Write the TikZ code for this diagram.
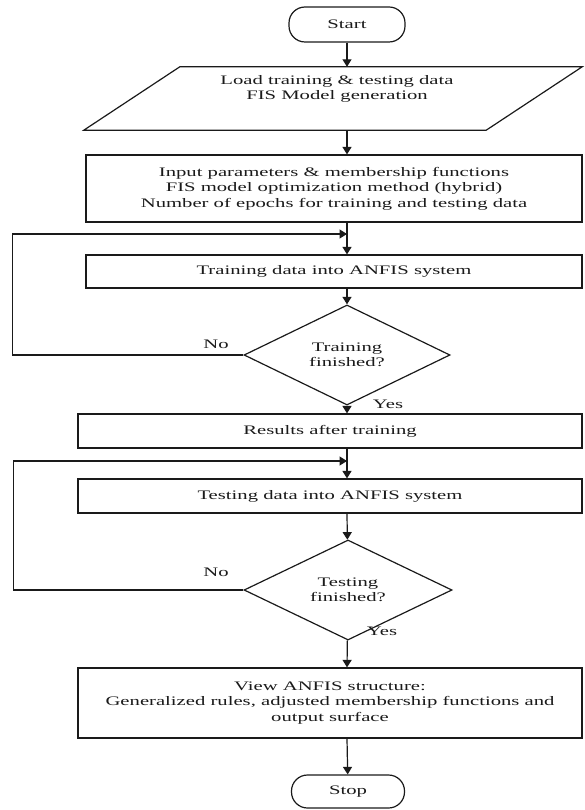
\documentclass[tikz,border=0pt]{standalone}
\usepackage{fontspec}
\setmainfont{Liberation Serif}[FakeStretch=1.59]
\usetikzlibrary{arrows.meta,calc,shapes.geometric}
\definecolor{ink}{HTML}{1A1A1A}
\begin{document}
\begin{tikzpicture}[x=1pt,y=-1pt,
  txt/.style={font=\fontsize{13}{15.5}\selectfont, text=ink, align=center, inner sep=0pt},
  proc/.style={txt, draw=ink, line width=1.2pt, rectangle},
  term/.style={txt, draw=ink, line width=1.2pt, rectangle, rounded corners=16pt},
  decision/.style={txt, draw=ink, line width=1.2pt, diamond, inner sep=0pt},
  conn/.style={draw=ink, line width=1.2pt, -{Triangle[length=7.5pt,width=9pt]}},
  plain/.style={draw=ink, line width=1.2pt},
]
\useasboundingbox (0,0) rectangle (584,810);

% nodes
\node[term, minimum width=116pt, minimum height=35pt] (start) at (347,24.5) {Start};
\node[minimum width=402pt, minimum height=63pt, inner sep=0pt] (load) at (333,98.5) {};
\node[txt] (loadtxt) at (337,89) {Load training \& testing data\\FIS Model generation};
\node[proc, minimum width=496pt, minimum height=67pt] (input) at (334,188.5)
  {Input parameters \& membership functions\\FIS model optimization method (hybrid)\\Number of epochs for training and testing data};
\node[proc, minimum width=496pt, minimum height=33pt] (train) at (334,271.5) {Training data into ANFIS system};
\node[decision, minimum width=206pt, minimum height=80pt] (dec1) at (347,355) {Training\\finished?};
\node[proc, minimum width=504pt, minimum height=34pt] (res) at (330,431) {Results after training};
\node[proc, minimum width=504pt, minimum height=34pt] (test) at (330,496) {Testing data into ANFIS system};
\node[decision, minimum width=208pt, minimum height=78pt] (dec2) at (348,590) {Testing\\finished?};
\node[proc, minimum width=504pt, minimum height=70pt] (view) at (330,703)
  {View ANFIS structure:\\Generalized rules, adjusted membership functions and\\output surface};
\node[term, minimum width=113pt, minimum height=33pt] (stop) at (348,791.5) {Stop};

\node[txt] (no1) at (216,344) {No};
\node[txt] (yes1) at (388,404) {Yes};
\node[txt] (no2) at (216,572) {No};
\node[txt] (yes2) at (382,631) {Yes};

% parallelogram outline
\draw[plain] ($(load.north west)+(48,0)$) -- ($(load.north east)+(48,0)$)
  -- ($(load.south east)+(-48,0)$) -- ($(load.south west)+(-48,0)$) -- cycle;

% junctions of the loops
\coordinate (j1) at (347,234);
\coordinate (j2) at (347,461);

% main flow
\draw[conn] (start) -- (start |- load.north);
\draw[conn] (start |- load.south) -- (start |- input.north);
\draw[conn] (start |- input.south) -- (start |- train.north);
\draw[conn] (start |- train.south) -- (dec1);
\draw[conn] (dec1) -- (start |- res.north);
\draw[conn] (start |- res.south) -- (start |- test.north);
\draw[conn] (start |- test.south) -- (dec2);
\draw[conn] (dec2) -- (start |- view.north);
\draw[conn] (start |- view.south) -- (stop);

% loops
\draw[conn] (dec1.west) -- ++(-231,0) |- (j1);
\draw[conn] (dec2.west) -- ++(-230,0) |- (j2);
\end{tikzpicture}
\end{document}
